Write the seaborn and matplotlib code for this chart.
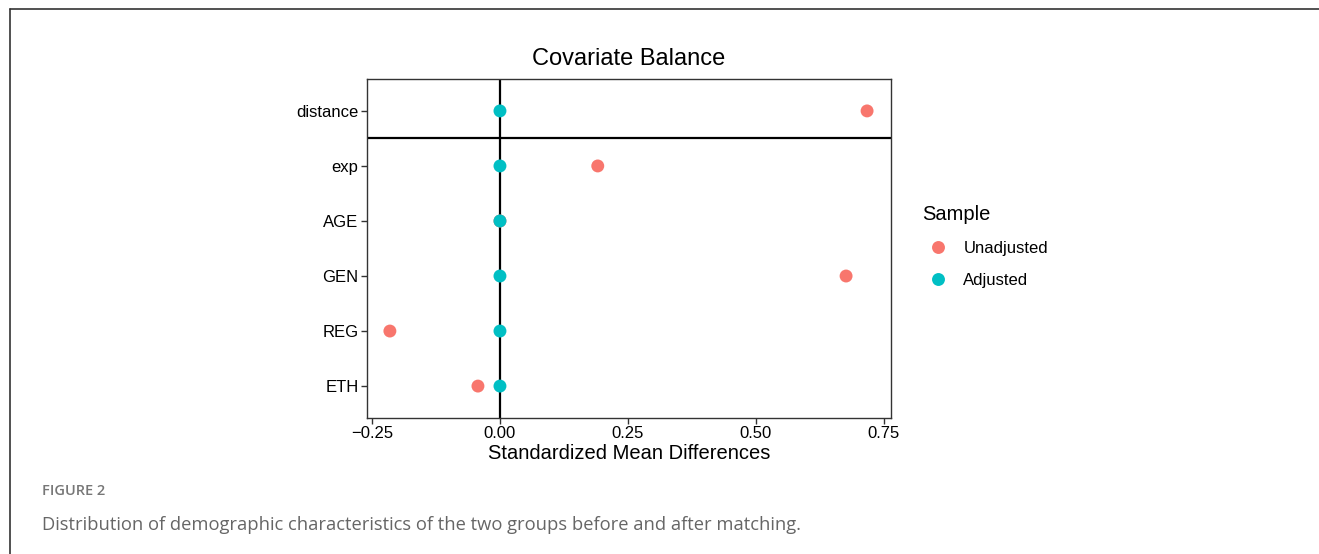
import matplotlib.pyplot as plt
import matplotlib.lines as mlines
import pandas as pd
import seaborn as sns

covariates = ["distance", "exp", "AGE", "GEN", "REG", "ETH"]
unadjusted = [0.717, 0.191, 0.0, 0.676, -0.215, -0.043]
adjusted = [0.0, 0.0, 0.0, 0.0, 0.0, 0.0]
samples = ["Unadjusted", "Adjusted"]
xticks = [-0.25, 0.0, 0.25, 0.50, 0.75]
xtick_labels = ["\u22120.25", "0.00", "0.25", "0.50", "0.75"]

PALETTE = {"Unadjusted": "#F8766D", "Adjusted": "#00BFC4"}
FONT = "Liberation Sans"

df = pd.concat(
    [
        pd.DataFrame({"var": covariates, "smd": unadjusted, "Sample": samples[0]}),
        pd.DataFrame({"var": covariates, "smd": adjusted, "Sample": samples[1]}),
    ]
)

sns.set_style("white")
plt.rcParams["font.family"] = [FONT, "DejaVu Sans"]
plt.rcParams["text.color"] = "black"
plt.rcParams["axes.labelcolor"] = "black"

fig = plt.figure(figsize=(13.19, 5.54), dpi=100)
ax = fig.add_axes([0.2782, 0.2455, 0.3973, 0.6119])

ax.axvline(0, color="black", lw=1.6, zorder=1)
ax.axhline(0.5, color="black", lw=1.6, zorder=1)

sns.stripplot(
    data=df,
    x="smd",
    y="var",
    hue="Sample",
    hue_order=samples,
    palette=PALETTE,
    order=covariates,
    jitter=False,
    dodge=False,
    size=9.3,
    linewidth=0,
    ax=ax,
    zorder=3,
)

ax.set_xlim(-0.2598, 0.7637)
ax.set_ylim(5.58, -0.58)
ax.set_xticks(xticks)
ax.set_xticklabels(xtick_labels)
ax.tick_params(
    axis="both", direction="out", length=4, width=1, color="#333333",
    labelsize=12, labelcolor="black", pad=2, bottom=True, left=True,
)
for s in ax.spines.values():
    s.set_color("#333333")
    s.set_linewidth(1.0)

ax.set_title("Covariate Balance", fontsize=17, pad=10, color="black")
ax.set_xlabel("Standardized Mean Differences", fontsize=14.5, labelpad=2)
ax.set_ylabel("")

leg = ax.legend(
    title="Sample", loc="upper left", bbox_to_anchor=(1.03, 0.672),
    frameon=False, fontsize=12, title_fontsize=14.5, labelspacing=1.0,
    handletextpad=0.5, markerscale=1.0,
)
leg._legend_box.align = "left"

# page frame lines and caption
fig.add_artist(mlines.Line2D([0.0076, 1.0], [0.9838, 0.9838], color="#333333", lw=1.2))
fig.add_artist(mlines.Line2D([0.0076, 0.0076], [0.0, 0.9838], color="#333333", lw=1.2))
fig.text(0.032, 0.106, "FIGURE 2", fontsize=10.5, color="#777777",
         family="Open Sans", weight="semibold")
fig.text(0.032, 0.044, "Distribution of demographic characteristics of the two groups before and after matching.",
         fontsize=13.2, color="#666666", family="Open Sans")

fig.savefig("out.png", dpi=100)
